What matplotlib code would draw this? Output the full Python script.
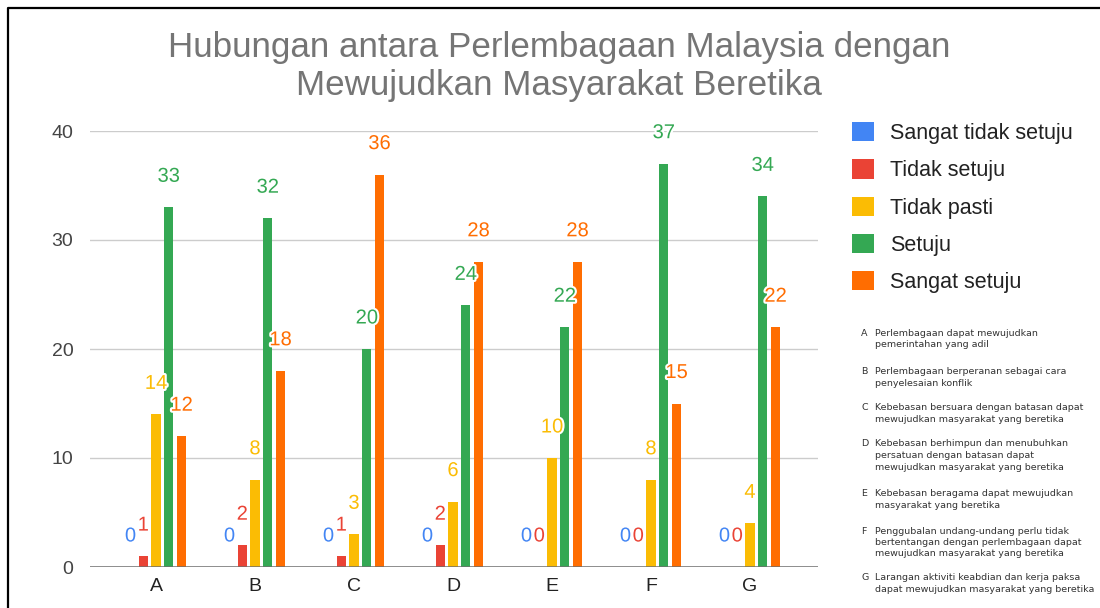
import numpy as np
import matplotlib
matplotlib.use("Agg")
import matplotlib.pyplot as plt
import matplotlib.patheffects as pe
from matplotlib.lines import Line2D

categories = ['A', 'B', 'C', 'D', 'E', 'F', 'G']
series_names = ['Sangat tidak setuju', 'Tidak setuju', 'Tidak pasti', 'Setuju', 'Sangat setuju']
sangat_tidak_setuju = [0, 0, 0, 0, 0, 0, 0]
tidak_setuju = [1, 2, 1, 2, 0, 0, 0]
tidak_pasti = [14, 8, 3, 6, 10, 8, 4]
setuju = [33, 32, 20, 24, 22, 37, 34]
sangat_setuju = [12, 18, 36, 28, 28, 15, 22]
colors = ['#4285F4', '#EA4335', '#FBBC04', '#34A853', '#FF6D01']
yticks = [0, 10, 20, 30, 40]
title_lines = ['Hubungan antara Perlembagaan Malaysia dengan', 'Mewujudkan Masyarakat Beretika']
notes = [
    ('A', ['Perlembagaan dapat mewujudkan', 'pemerintahan yang adil']),
    ('B', ['Perlembagaan berperanan sebagai cara', 'penyelesaian konflik']),
    ('C', ['Kebebasan bersuara dengan batasan dapat', 'mewujudkan masyarakat yang beretika']),
    ('D', ['Kebebasan berhimpun dan menubuhkan', 'persatuan dengan batasan dapat',
           'mewujudkan masyarakat yang beretika']),
    ('E', ['Kebebasan beragama dapat mewujudkan', 'masyarakat yang beretika']),
    ('F', ['Penggubalan undang-undang perlu tidak', 'bertentangan dengan perlembagaan dapat',
           'mewujudkan masyarakat yang beretika']),
    ('G', ['Larangan aktiviti keabdian dan kerja paksa', 'dapat mewujudkan masyarakat yang beretika']),
]

W, H = 1100, 608
plt.rcParams['font.family'] = ['Liberation Sans', 'DejaVu Sans']
fig = plt.figure(figsize=(W / 100, H / 100), dpi=100)
fig.patch.set_facecolor('white')


def fx(px):
    return px / W


def fy(py):
    return 1 - py / H


ax = fig.add_axes([fx(90), fy(567), fx(818 - 90), (567 - 131) / H])
series = [sangat_tidak_setuju, tidak_setuju, tidak_pasti, setuju, sangat_setuju]
x = np.arange(len(categories))
step = 0.129
width = 0.094
handles = []
for i, (vals, col, name) in enumerate(zip(series, colors, series_names)):
    xpos = x + (i - 2) * step
    b = ax.bar(xpos, vals, width=width, color=col, label=name, zorder=3)
    handles.append(b)
    for xp, v in zip(xpos, vals):
        ax.annotate(str(v), (xp, v), xytext=(0, 31), textcoords='offset pixels',
                    ha='center', va='center', color=col, fontsize=14.5, zorder=5,
                    annotation_clip=False,
                    path_effects=[pe.withStroke(linewidth=3, foreground='white')])

ax.set_xlim(-0.667, 6.687)
ax.set_ylim(0, 40)
ax.set_yticks(yticks)
ax.set_yticklabels([str(t) for t in yticks], color='#444444', fontsize=14)
ax.set_xticks(x)
ax.set_xticklabels(categories, color='#222222', fontsize=14)
ax.tick_params(axis='y', length=0, pad=12)
ax.tick_params(axis='x', length=0, pad=8)
ax.grid(axis='y', color='#cccccc', linewidth=1, zorder=0)
ax.set_axisbelow(True)
for s in ax.spines.values():
    s.set_visible(False)
ax.axhline(0, color='#6f6f6f', linewidth=1.8, zorder=4)

# title
fig.text(fx(559), fy(48), title_lines[0], ha='center', va='center',
         fontsize=25.2, color='#757575')
fig.text(fx(559), fy(85), title_lines[1], ha='center', va='center',
         fontsize=25.2, color='#757575')

# legend
leg = fig.legend(handles=handles, labels=series_names, loc='upper left',
                 bbox_to_anchor=(fx(852), fy(122)), bbox_transform=fig.transFigure,
                 frameon=False, fontsize=15.5, handlelength=1.02, handleheight=1.0,
                 handletextpad=0.74, labelspacing=0.71, borderpad=0, borderaxespad=0)
for t in leg.get_texts():
    t.set_color('#222222')

# notes
note_y = [333, 372, 408, 444, 494, 531, 578]
for (letter, lines), y0 in zip(notes, note_y):
    fig.text(fx(861), fy(y0), letter, ha='left', va='center', fontsize=6.8,
             color='#333333', family='DejaVu Sans')
    for j, ln in enumerate(lines):
        fig.text(fx(875), fy(y0 + j * 11.5), ln, ha='left', va='center', fontsize=6.8,
                 color='#333333', family='DejaVu Sans')

# outer border
fig.add_artist(Line2D([fx(7.5), fx(7.5), fx(1100)], [fy(608), fy(7.5), fy(7.5)],
                      transform=fig.transFigure, color='black', linewidth=1.6))

fig.savefig('out.png', dpi=100)
